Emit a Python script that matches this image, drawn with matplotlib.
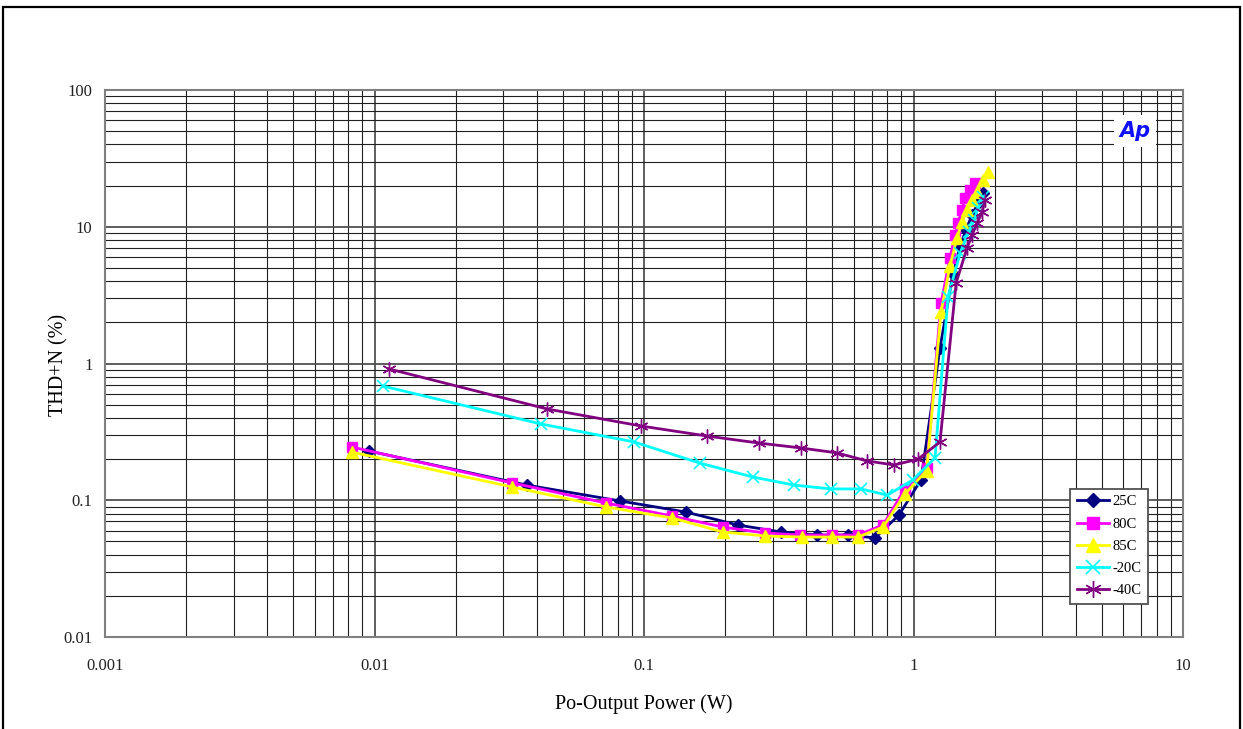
import matplotlib
matplotlib.use("Agg")
import matplotlib.pyplot as plt
from matplotlib.patches import Rectangle

# ---- data ----
p_25 = [0.00954, 0.0368, 0.0815, 0.143, 0.223, 0.322, 0.438, 0.571, 0.72, 0.883,
        1.066, 1.254, 1.40, 1.49, 1.566, 1.65, 1.735, 1.81]
t_25 = [0.229, 0.129, 0.0988, 0.082, 0.0659, 0.0586, 0.0557, 0.0557, 0.053, 0.078,
        0.141, 1.30, 4.52, 7.2, 9.5, 12.2, 14.9, 17.7]

p_80 = [0.00825, 0.0324, 0.0723, 0.127, 0.196, 0.281, 0.379, 0.499, 0.622, 0.771,
        0.929, 1.119, 1.265, 1.366, 1.426, 1.463, 1.514, 1.553, 1.622, 1.691]
t_80 = [0.245, 0.134, 0.0955, 0.0767, 0.0637, 0.0576, 0.0557, 0.0557, 0.0557, 0.0659,
        0.121, 0.172, 2.77, 5.9, 8.7, 10.6, 13.3, 16.2, 18.6, 20.9]

p_85 = [0.00825, 0.0324, 0.0723, 0.127, 0.196, 0.281, 0.385, 0.499, 0.622, 0.771,
        0.929, 1.119, 1.265, 1.366, 1.45, 1.514, 1.58, 1.65, 1.72, 1.81, 1.89]
t_85 = [0.225, 0.125, 0.0893, 0.0742, 0.0586, 0.0548, 0.0538, 0.0538, 0.0538, 0.0637,
        0.111, 0.165, 2.38, 5.16, 8.3, 10.8, 13.3, 15.7, 18.0, 22.0, 25.1]

p_m20 = [0.01075, 0.0415, 0.0918, 0.161, 0.253, 0.361, 0.494, 0.638, 0.80, 0.995,
         1.202, 1.343, 1.489, 1.60, 1.68, 1.735, 1.81]
t_m20 = [0.684, 0.361, 0.267, 0.187, 0.148, 0.129, 0.121, 0.121, 0.109, 0.141,
         0.204, 3.07, 6.4, 9.2, 11.2, 13.7, 16.5]

p_m40 = [0.01133, 0.0437, 0.0976, 0.171, 0.267, 0.383, 0.52, 0.671, 0.847, 1.04,
         1.254, 1.44, 1.58, 1.65, 1.72, 1.80, 1.84]
t_m40 = [0.912, 0.465, 0.349, 0.295, 0.262, 0.241, 0.222, 0.194, 0.181, 0.200,
         0.267, 3.9, 7.0, 8.7, 10.6, 12.8, 15.7]

series_labels = ["25C", "80C", "85C", "-20C", "-40C"]
x_ticks = [0.001, 0.01, 0.1, 1, 10]
x_tick_labels = ["0.001", "0.01", "0.1", "1", "10"]
y_ticks = [0.01, 0.1, 1, 10, 100]
y_tick_labels = ["0.01", "0.1", "1", "10", "100"]

plt.rcParams['font.family'] = ['Liberation Serif', 'DejaVu Serif']

fig = plt.figure(figsize=(12.43, 7.29), dpi=100)
W, H = 1243, 729
ax = fig.add_axes([105 / W, 1 - 637 / H, (1183 - 105) / W, (637 - 90) / H])

# figure frame
fig.patches.append(Rectangle((3 / W, -0.01), (1240 - 3) / W, (729 - 7) / H + 0.01,
                             transform=fig.transFigure, fill=False,
                             edgecolor='black', linewidth=1.6))

ax.set_xscale('log')
ax.set_yscale('log')
ax.set_xlim(0.001, 10)
ax.set_ylim(0.01, 100)

ax.grid(True, which='major', color='#505050', linewidth=1.3)
ax.grid(True, which='minor', color='#202020', linewidth=0.8)
ax.set_axisbelow(True)
for s in ax.spines.values():
    s.set_color('#808080')
    s.set_linewidth(1.5)

ax.set_xticks(x_ticks)
ax.set_xticklabels(x_tick_labels)
ax.set_yticks(y_ticks)
ax.set_yticklabels(y_tick_labels)
ax.tick_params(which='both', length=0, labelsize=12, colors='#222222')
ax.tick_params(axis='x', pad=15)
ax.tick_params(axis='y', pad=9)

lw = 2.0
ax.plot(p_25, t_25, color='#000080', marker='D', markersize=6, linewidth=lw, label=series_labels[0])
ax.plot(p_80, t_80, color='#FF00FF', marker='s', markersize=7, linewidth=lw, label=series_labels[1])
ax.plot(p_85, t_85, color='#FFFF00', marker='^', markersize=8, linewidth=lw, label=series_labels[2])
ax.plot(p_m20, t_m20, color='#00FFFF', marker='x', markersize=8, markeredgewidth=1.2,
        linewidth=lw, label=series_labels[3])
ax.plot(p_m40, t_m40, color='#800080', marker=(6, 2, 0), markersize=10, markeredgewidth=1.0,
        linewidth=lw, label=series_labels[4])

ax.set_xlabel("Po-Output Power (W)", fontsize=14.5, labelpad=15)
ax.set_ylabel("THD+N (%)", fontsize=14.5)
ax.yaxis.set_label_coords(-0.0343, 0.497)

leg = ax.legend(loc='lower right', bbox_to_anchor=(0.9675, 0.0603), borderaxespad=0,
                fontsize=10.5, handlelength=2.2, labelspacing=0.62, handletextpad=0.25,
                borderpad=0.45, fancybox=False, framealpha=1, markerscale=1.2)
leg.get_frame().set_edgecolor('#505050')
leg.get_frame().set_linewidth(1.3)

ax.text(0.9555, 0.925, "Ap", transform=ax.transAxes, ha='center', va='center',
        fontsize=15, fontweight='bold', fontstyle='italic', color='#1010FF',
        family='DejaVu Sans',
        bbox=dict(facecolor='white', edgecolor='none', pad=4))

fig.savefig("out.png", dpi=100)
